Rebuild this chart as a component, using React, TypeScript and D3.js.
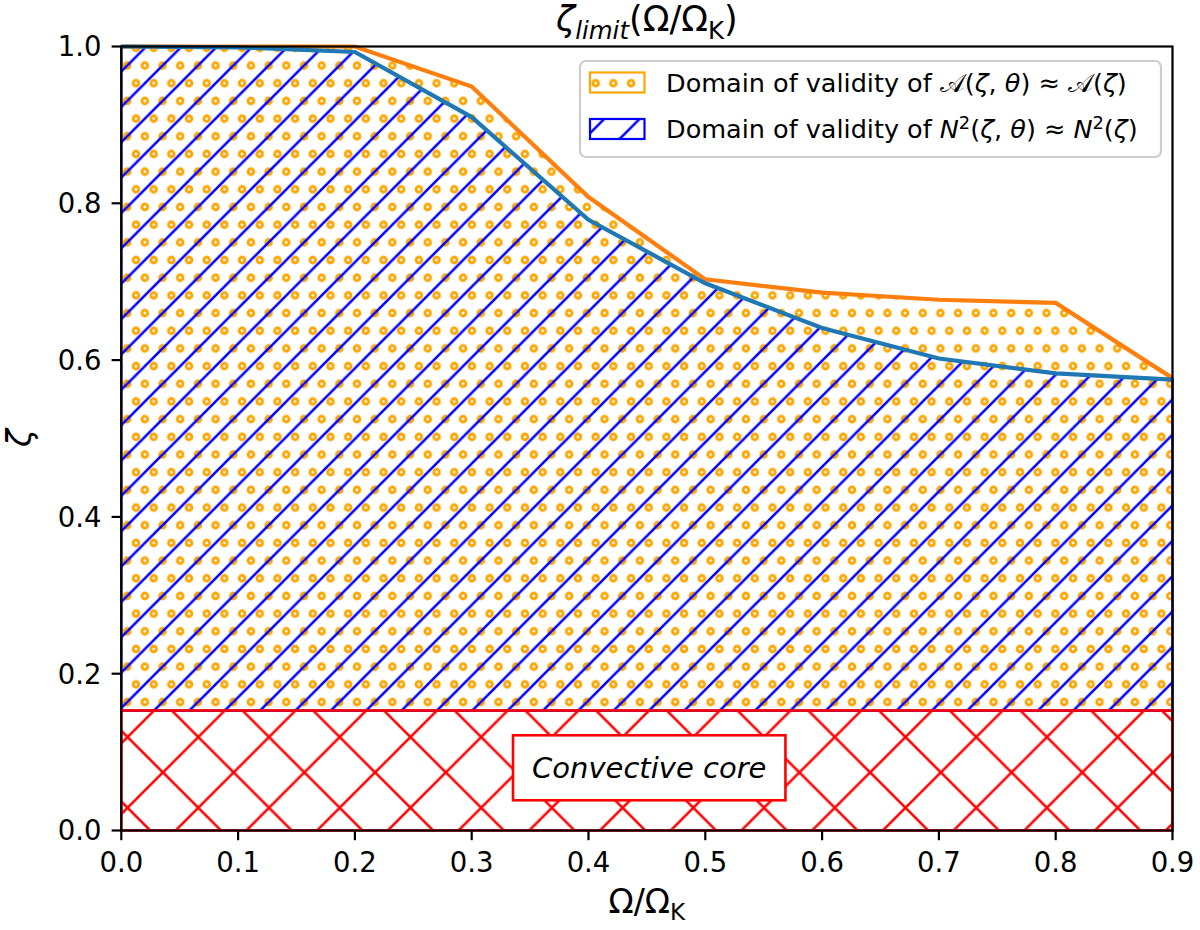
import * as d3 from 'd3';
import * as React from 'react';

// rotation rate Omega/Omega_K sampled every 0.1
const omegaRatio = [0, 0.1, 0.2, 0.3, 0.4, 0.5, 0.6, 0.7, 0.8, 0.9];
// zeta limit where A(zeta, theta) ~ A(zeta)
const zetaLimitA = [1.0, 1.0, 1.0, 0.949, 0.808, 0.703, 0.686, 0.677, 0.673, 0.577];
// zeta limit where N^2(zeta, theta) ~ N^2(zeta)
const zetaLimitN2 = [1.0, 0.999, 0.993, 0.91, 0.779, 0.698, 0.641, 0.602, 0.583, 0.575];
// top of the convective core
const zetaCore = 0.153;

const xTicks = [0, 0.1, 0.2, 0.3, 0.4, 0.5, 0.6, 0.7, 0.8, 0.9];
const yTicks = [0, 0.2, 0.4, 0.6, 0.8, 1.0];

type Part = { t: string; it?: boolean; sub?: boolean; sup?: boolean };

const titleParts: Part[] = [
  { t: 'ζ', it: true },
  { t: 'limit', it: true, sub: true },
  { t: '(Ω/Ω' },
  { t: 'K', sub: true },
  { t: ')' },
];
const xLabelParts: Part[] = [{ t: 'Ω/Ω' }, { t: 'K', sub: true }];
const legendA: Part[] = [
  { t: 'Domain of validity of ' },
  { t: '𝒜' },
  { t: '(' },
  { t: 'ζ', it: true },
  { t: ', ' },
  { t: 'θ', it: true },
  { t: ') ≈ ' },
  { t: '𝒜' },
  { t: '(' },
  { t: 'ζ', it: true },
  { t: ')' },
];
const legendN2: Part[] = [
  { t: 'Domain of validity of ' },
  { t: 'N', it: true },
  { t: '2', sup: true },
  { t: '(' },
  { t: 'ζ', it: true },
  { t: ', ' },
  { t: 'θ', it: true },
  { t: ') ≈ ' },
  { t: 'N', it: true },
  { t: '2', sup: true },
  { t: '(' },
  { t: 'ζ', it: true },
  { t: ')' },
];

const FONT = '"DejaVu Sans", sans-serif';

// writes math-like text as tspans, shifting sub/superscripts
const richText = (sel, parts: Part[], size: number) => {
  let shift = 0;
  parts.forEach((p) => {
    const target = p.sub ? size * 0.22 : p.sup ? -size * 0.38 : 0;
    sel
      .append('tspan')
      .attr('dy', target - shift)
      .style('font-size', `${p.sub || p.sup ? size * 0.7 : size}px`)
      .style('font-style', p.it ? 'italic' : 'normal')
      .text(p.t);
    shift = target;
  });
};

const ZetaLimitChart = () => {
  const d3Container = React.useRef<SVGSVGElement>(null);
  const width = 1200,
    height = 930;

  React.useEffect(() => {
    const margin = { top: 46.5, right: 27.5, bottom: 99.5, left: 121.3 };
    const svg = d3.select(d3Container.current);
    svg.selectAll('*').remove();

    const x = d3.scaleLinear().domain([0, 0.9]).range([margin.left, width - margin.right]);
    const y = d3.scaleLinear().domain([0, 1]).range([height - margin.bottom, margin.top]);

    const rows = omegaRatio.map((o, i) => ({ o, a: zetaLimitA[i], n: zetaLimitN2[i] }));

    // hatch patterns, all anchored to the same page lattice
    const defs = svg.append('defs');
    const s = 35.36;
    const dots = defs
      .append('pattern')
      .attr('id', 'hatch-dots')
      .attr('patternUnits', 'userSpaceOnUse')
      .attr('x', 12.24)
      .attr('y', 12.54)
      .attr('width', s / 2)
      .attr('height', s);
    [
      [0, 0],
      [s / 2, 0],
      [0, s],
      [s / 2, s],
      [s / 4, s / 2],
    ].forEach(([cx, cy]) => {
      dots
        .append('circle')
        .attr('cx', cx)
        .attr('cy', cy)
        .attr('r', 2.85)
        .attr('fill', 'none')
        .attr('stroke', '#ffa500')
        .attr('stroke-width', 2.9);
    });

    const slash = defs
      .append('pattern')
      .attr('id', 'hatch-slash')
      .attr('patternUnits', 'userSpaceOnUse')
      .attr('x', 21.5)
      .attr('y', -5.5)
      .attr('width', s)
      .attr('height', s);
    slash
      .append('path')
      .attr('d', `M0,${s}L${s},0M-4,4L4,-4M${s - 4},${s + 4}L${s + 4},${s - 4}`)
      .attr('stroke', '#0000ff')
      .attr('stroke-width', 2.6);

    const c = 2 * s;
    const cross = defs
      .append('pattern')
      .attr('id', 'hatch-cross')
      .attr('patternUnits', 'userSpaceOnUse')
      .attr('x', 21.5)
      .attr('y', -5.5)
      .attr('width', c)
      .attr('height', c);
    cross
      .append('path')
      .attr(
        'd',
        `M0,${c}L${c},0M-4,4L4,-4M${c - 4},${c + 4}L${c + 4},${c - 4}` +
          `M0,0L${c},${c}M-4,${c - 4}L4,${c + 4}M${c - 4},-4L${c + 4},4`
      )
      .attr('stroke', '#ff0000')
      .attr('stroke-width', 2.6);

    const g = svg.append('g');

    const areaA = d3
      .area()
      .x((d) => x(d.o))
      .y0(y(zetaCore))
      .y1((d) => y(d.a));
    const areaN2 = d3
      .area()
      .x((d) => x(d.o))
      .y0(y(zetaCore))
      .y1((d) => y(d.n));
    const areaCore = d3
      .area()
      .x((d) => x(d.o))
      .y0(y(0))
      .y1(y(zetaCore));

    g.append('path').attr('d', areaA(rows)).attr('fill', 'url(#hatch-dots)').attr('stroke', '#ffa500').attr('stroke-width', 2.2);
    g.append('path').attr('d', areaN2(rows)).attr('fill', 'url(#hatch-slash)').attr('stroke', '#0000ff').attr('stroke-width', 2.2);
    g.append('path').attr('d', areaCore(rows)).attr('fill', 'url(#hatch-cross)').attr('stroke', '#ff0000').attr('stroke-width', 2.6);

    const lineA = d3
      .line()
      .x((d) => x(d.o))
      .y((d) => y(d.a));
    const lineN2 = d3
      .line()
      .x((d) => x(d.o))
      .y((d) => y(d.n));
    g.append('path').attr('d', lineA(rows)).attr('fill', 'none').attr('stroke', '#ff7f0e').attr('stroke-width', 4.2);
    g.append('path').attr('d', lineN2(rows)).attr('fill', 'none').attr('stroke', '#1f77b4').attr('stroke-width', 4.2);

    // convective core label
    const core = g.append('g');
    const coreBox = core.append('rect');
    const coreText = core
      .append('text')
      .attr('x', x(0.452))
      .attr('y', y(0.08))
      .attr('dy', '0.35em')
      .attr('text-anchor', 'middle')
      .style('font-family', FONT)
      .style('font-size', '29px')
      .style('font-style', 'italic')
      .text('Convective core');
    const tw = coreText.node().getComputedTextLength();
    coreBox
      .attr('x', x(0.452) - tw / 2 - 19)
      .attr('y', y(0.08) - 32.5)
      .attr('width', tw + 38)
      .attr('height', 65)
      .attr('fill', '#fff')
      .attr('stroke', '#ff0000')
      .attr('stroke-width', 2.6);

    // legend
    const leg = svg.append('g');
    leg
      .append('rect')
      .attr('x', 580)
      .attr('y', 61)
      .attr('width', 581)
      .attr('height', 96)
      .attr('rx', 6)
      .attr('fill', '#fff')
      .attr('fill-opacity', 0.8)
      .attr('stroke', '#cccccc')
      .attr('stroke-width', 2.2);
    const legendItems = [
      { parts: legendA, fill: 'url(#hatch-dots)', stroke: '#ffa500' },
      { parts: legendN2, fill: 'url(#hatch-slash)', stroke: '#0000ff' },
    ];
    legendItems.forEach((item, i) => {
      const cy = 82.5 + i * 46.5;
      leg
        .append('rect')
        .attr('x', 590)
        .attr('y', cy - 10)
        .attr('width', 54.5)
        .attr('height', 20)
        .attr('fill', item.fill)
        .attr('stroke', item.stroke)
        .attr('stroke-width', 2.2);
      const t = leg
        .append('text')
        .attr('x', 666)
        .attr('y', cy + 9.3)
        .style('font-family', FONT)
        .style('fill', '#000');
      richText(t, item.parts, 25.5);
    });

    // frame and axes
    svg
      .append('rect')
      .attr('x', x(0))
      .attr('y', y(1))
      .attr('width', x(0.9) - x(0))
      .attr('height', y(0) - y(1))
      .attr('fill', 'none')
      .attr('stroke', '#000')
      .attr('stroke-width', 2.2);

    const xAxis = svg.append('g');
    xTicks.forEach((t) => {
      xAxis
        .append('line')
        .attr('x1', x(t))
        .attr('x2', x(t))
        .attr('y1', y(0))
        .attr('y2', y(0) + 9.7)
        .attr('stroke', '#000')
        .attr('stroke-width', 2.2);
      xAxis
        .append('text')
        .attr('x', x(t))
        .attr('y', 872)
        .attr('text-anchor', 'middle')
        .style('font-family', FONT)
        .style('font-size', '27.5px')
        .text(d3.format('.1f')(t));
    });

    const yAxis = svg.append('g');
    yTicks.forEach((t) => {
      yAxis
        .append('line')
        .attr('x1', x(0) - 9.7)
        .attr('x2', x(0))
        .attr('y1', y(t))
        .attr('y2', y(t))
        .attr('stroke', '#000')
        .attr('stroke-width', 2.2);
      yAxis
        .append('text')
        .attr('x', 101.5)
        .attr('y', y(t))
        .attr('dy', '0.36em')
        .attr('text-anchor', 'end')
        .style('font-family', FONT)
        .style('font-size', '27.5px')
        .text(d3.format('.1f')(t));
    });

    const xLabel = svg
      .append('text')
      .attr('x', (x(0) + x(0.9)) / 2)
      .attr('y', 913)
      .attr('text-anchor', 'middle')
      .style('font-family', FONT);
    richText(xLabel, xLabelParts, 33);

    svg
      .append('text')
      .attr('transform', `translate(31,438) rotate(-90)`)
      .attr('text-anchor', 'middle')
      .style('font-family', FONT)
      .style('font-size', '33px')
      .style('font-style', 'italic')
      .text('ζ');

    const title = svg
      .append('text')
      .attr('x', (x(0) + x(0.9)) / 2)
      .attr('y', 31)
      .attr('text-anchor', 'middle')
      .style('font-family', FONT);
    richText(title, titleParts, 35);
  }, []);

  return (
    <svg
      ref={d3Container}
      width={width}
      height={height}
      style={{ position: 'absolute', left: 0, top: 0, background: '#fff' }}
    />
  );
};

export default function App() {
  return <ZetaLimitChart />;
}
